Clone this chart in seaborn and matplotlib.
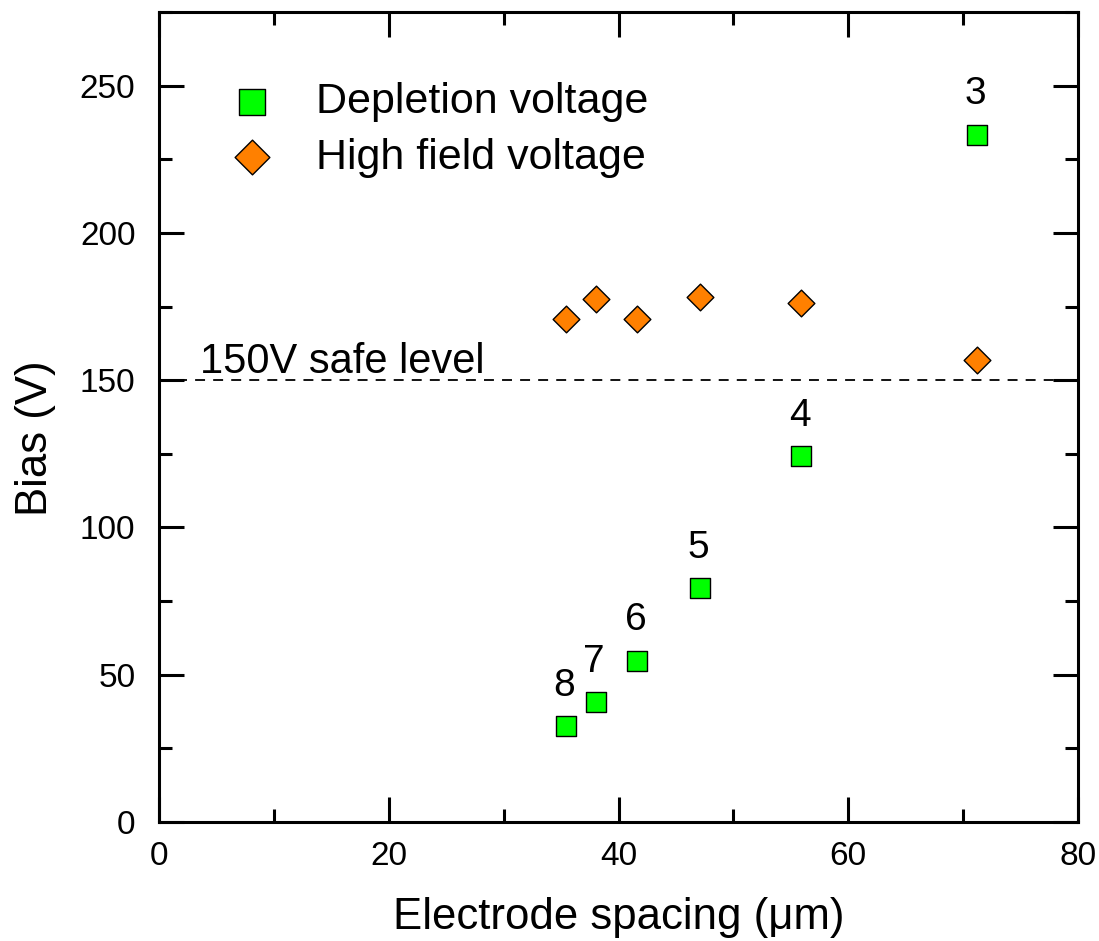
import matplotlib
matplotlib.use("Agg")
import matplotlib.pyplot as plt
import seaborn as sns
import pandas as pd
from matplotlib.ticker import MultipleLocator

# ---- data ----
spacing = [35.4, 38.0, 41.6, 47.1, 55.9, 71.2]
depletion_v = [32.5, 40.6, 54.8, 79.3, 124.2, 233.4]
high_field_v = [170.8, 177.7, 170.7, 178.1, 176.2, 157.0]
point_labels = ["8", "7", "6", "5", "4", "3"]
safe_level = 150
x_ticks = [0, 20, 40, 60, 80]
y_ticks = [0, 50, 100, 150, 200, 250]

sns.set_style("ticks")
plt.rcParams["font.family"] = ["Liberation Sans", "DejaVu Sans"]
plt.rcParams.update({"text.color": "black", "axes.labelcolor": "black",
                     "xtick.color": "black", "ytick.color": "black",
                     "axes.edgecolor": "black"})

fig = plt.figure(figsize=(10.99, 9.41), dpi=100)
ax = fig.add_axes([159 / 1099, 1 - 822 / 941, (1078 - 159) / 1099, (822 - 12) / 941])

df_dep = pd.DataFrame({"x": spacing, "y": depletion_v})
df_hf = pd.DataFrame({"x": spacing, "y": high_field_v})

sns.scatterplot(data=df_dep, x="x", y="y", marker="s", s=200, color="#00ff00",
                edgecolor="black", linewidth=1.0, ax=ax, label="Depletion voltage", zorder=3)
sns.scatterplot(data=df_hf, x="x", y="y", marker="D", s=185, color="#ff8000",
                edgecolor="black", linewidth=1.0, ax=ax, label="High field voltage", zorder=3)

ax.plot([0, 80], [safe_level, safe_level], color="black", lw=1.3, dashes=(5.5, 4.5), zorder=2)
ax.text(3.6, safe_level + 2.6, "150V safe level", fontsize=30, ha="left", va="baseline")

for xv, yv, lab in zip(spacing, depletion_v, point_labels):
    ax.annotate(lab, (xv, yv), xytext=(-1, 29), textcoords="offset points",
                ha="center", va="center", fontsize=28)

ax.set_xlim(0, 80)
ax.set_ylim(0, 275)
ax.set_xticks(x_ticks)
ax.set_yticks(y_ticks)
ax.xaxis.set_minor_locator(MultipleLocator(10))
ax.yaxis.set_minor_locator(MultipleLocator(25))

for sp in ax.spines.values():
    sp.set_visible(True)
    sp.set_linewidth(2.2)
    sp.set_color("black")

ax.tick_params(which="both", direction="in", top=True, right=True, width=2.2, color="black")
ax.tick_params(which="major", length=18, labelsize=24)
ax.tick_params(axis="x", which="major", pad=14)
ax.tick_params(axis="y", which="major", pad=17)
ax.tick_params(which="minor", length=9.5)

ax.set_xlabel("Electrode spacing (\u03bcm)", fontsize=31.5, labelpad=18)
ax.set_ylabel("Bias (V)", fontsize=31.5)
ax.yaxis.set_label_coords(-0.112, 0.474)

leg = ax.legend(loc="upper left", bbox_to_anchor=(0.054, 0.913), frameon=False,
                fontsize=31, markerscale=1.3, handlelength=2.0, handletextpad=0.5,
                labelspacing=0.35, borderaxespad=0, borderpad=0)

fig.savefig("out.png", dpi=100, facecolor="white")
